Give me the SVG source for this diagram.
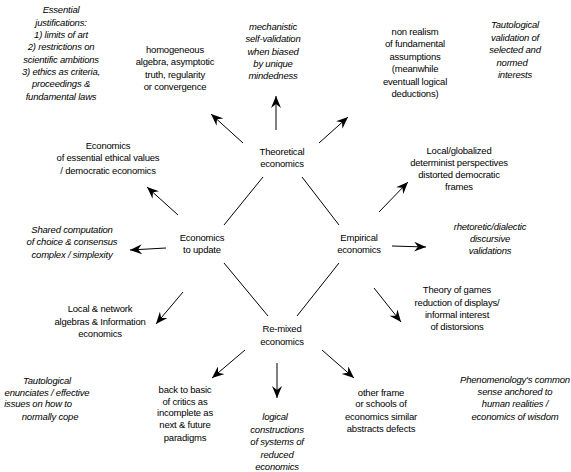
<svg xmlns="http://www.w3.org/2000/svg" width="571" height="472" viewBox="0 0 571 472">
<style>
text{font-family:"Liberation Sans",Arial,sans-serif;font-size:9.5px;fill:#000;text-anchor:middle;letter-spacing:-0.2px}
.i{font-style:italic}
.c line{stroke:#000;stroke-width:1}
.c .a{marker-end:url(#ah)}
</style>
<defs>
<marker id="ah" markerUnits="userSpaceOnUse" markerWidth="14" markerHeight="10" refX="12" refY="5" orient="auto">
<path d="M0,0 L12,5 L0,10 L4,5 z" fill="#000"/>
</marker>
</defs>
<rect width="571" height="472" fill="#fff"/>
<g class="c" id="connectors">
<line x1="263" y1="177" x2="224" y2="225"/>
<line x1="302" y1="177" x2="339" y2="225"/>
<line x1="224" y1="263" x2="268" y2="316"/>
<line x1="339" y1="263" x2="297" y2="316"/>
<line class="a" x1="276" y1="130" x2="276" y2="96"/>
<line class="a" x1="243" y1="143" x2="211" y2="114"/>
<line class="a" x1="319" y1="143" x2="348" y2="117"/>
<line class="a" x1="178" y1="215" x2="147" y2="187"/>
<line class="a" x1="166" y1="248" x2="130" y2="250"/>
<line class="a" x1="183" y1="292" x2="156" y2="324"/>
<line class="a" x1="379" y1="212" x2="408" y2="182"/>
<line class="a" x1="392" y1="246" x2="426" y2="247"/>
<line class="a" x1="374" y1="288" x2="401" y2="322"/>
<line class="a" x1="245" y1="350" x2="212" y2="378"/>
<line class="a" x1="277" y1="363" x2="277" y2="398"/>
<line class="a" x1="322" y1="350" x2="354" y2="378"/>
</g>
<g id="n-theoretical"><text x="282" y="155">Theoretical</text><text x="282" y="167">economics</text></g>
<g id="n-update"><text x="202" y="241">Economics</text><text x="202" y="253">to update</text></g>
<g id="n-empirical"><text x="359" y="241">Empirical</text><text x="359" y="253">economics</text></g>
<g id="n-remixed"><text x="282" y="332">Re-mixed</text><text x="282" y="345">economics</text></g>
<g id="n-essential" class="i"><text class="i" x="61" y="13">Essential</text><text class="i" x="61" y="26">justifications:</text><text class="i" x="61" y="38">1) limits of art</text><text class="i" x="61" y="50">2) restrictions on</text><text class="i" x="61" y="63">scientific ambitions</text><text class="i" x="61" y="75">3) ethics as criteria,</text><text class="i" x="61" y="87">proceedings &amp;</text><text class="i" x="61" y="100">fundamental laws</text></g>
<g id="n-homogeneous"><text x="175" y="53">homogeneous</text><text x="175" y="65">algebra, asymptotic</text><text x="175" y="78">truth, regularity</text><text x="175" y="90">or convergence</text></g>
<g id="n-mechanistic"><text class="i" x="273" y="30">mechanistic</text><text class="i" x="273" y="42">self-validation</text><text class="i" x="273" y="55">when biased</text><text class="i" x="273" y="67">by unique</text><text class="i" x="273" y="79">mindedness</text></g>
<g id="n-nonrealism"><text x="415" y="35">non realism</text><text x="415" y="47">of fundamental</text><text x="415" y="60">assumptions</text><text x="415" y="72">(meanwhile</text><text x="415" y="85">eventuall logical</text><text x="415" y="97">deductions)</text></g>
<g id="n-tautval"><text class="i" x="515" y="28">Tautological</text><text class="i" x="515" y="41">validation of</text><text class="i" x="515" y="53">selected and</text><text class="i" x="512" y="66">normed</text><text class="i" x="515" y="78">interests</text></g>
<g id="n-ethical"><text x="108" y="149">Economics</text><text x="108" y="161">of essential ethical values</text><text x="108" y="174">/ democratic economics</text></g>
<g id="n-shared"><text class="i" x="72" y="233">Shared computation</text><text class="i" x="72" y="245">of choice &amp; consensus</text><text class="i" x="72" y="258">complex / simplexity</text></g>
<g id="n-localglobal"><text x="459" y="154">Local/globalized</text><text x="459" y="166">determinist perspectives</text><text x="459" y="178">distorted democratic</text><text x="459" y="190">frames</text></g>
<g id="n-rhetoretic"><text class="i" x="490" y="230">rhetoretic/dialectic</text><text class="i" x="490" y="242">discursive</text><text class="i" x="490" y="254">validations</text></g>
<g id="n-games"><text x="457" y="293">Theory of games</text><text x="457" y="306">reduction of displays/</text><text x="457" y="318">informal interest</text><text x="457" y="330">of distorsions</text></g>
<g id="n-localnet"><text x="100" y="312">Local &amp; network</text><text x="100" y="325">algebras &amp; Information</text><text x="100" y="337">economics</text></g>
<g id="n-tautenun"><text class="i" x="47" y="384">Tautological</text><text class="i" x="47" y="396">enunciates / effective</text><text class="i" x="38" y="407">issues on how to</text><text class="i" x="50" y="420">normally cope</text></g>
<g id="n-back"><text x="185" y="393">back to basic</text><text x="185" y="405">of critics as</text><text x="185" y="416">incomplete as</text><text x="185" y="428">next &amp; future</text><text x="185" y="441">paradigms</text></g>
<g id="n-logical"><text class="i" x="275" y="420">logical</text><text class="i" x="277" y="433">constructions</text><text class="i" x="277" y="445">of systems of</text><text class="i" x="277" y="458">reduced</text><text class="i" x="277" y="470">economics</text></g>
<g id="n-other"><text x="381" y="396">other frame</text><text x="381" y="407">or schools of</text><text x="381" y="420">economics similar</text><text x="381" y="432">abstracts defects</text></g>
<g id="n-phenom"><text class="i" x="515" y="383">Phenomenology's common</text><text class="i" x="515" y="395">sense anchored to</text><text class="i" x="515" y="407">human realities /</text><text class="i" x="515" y="420">economics of wisdom</text></g>
</svg>
